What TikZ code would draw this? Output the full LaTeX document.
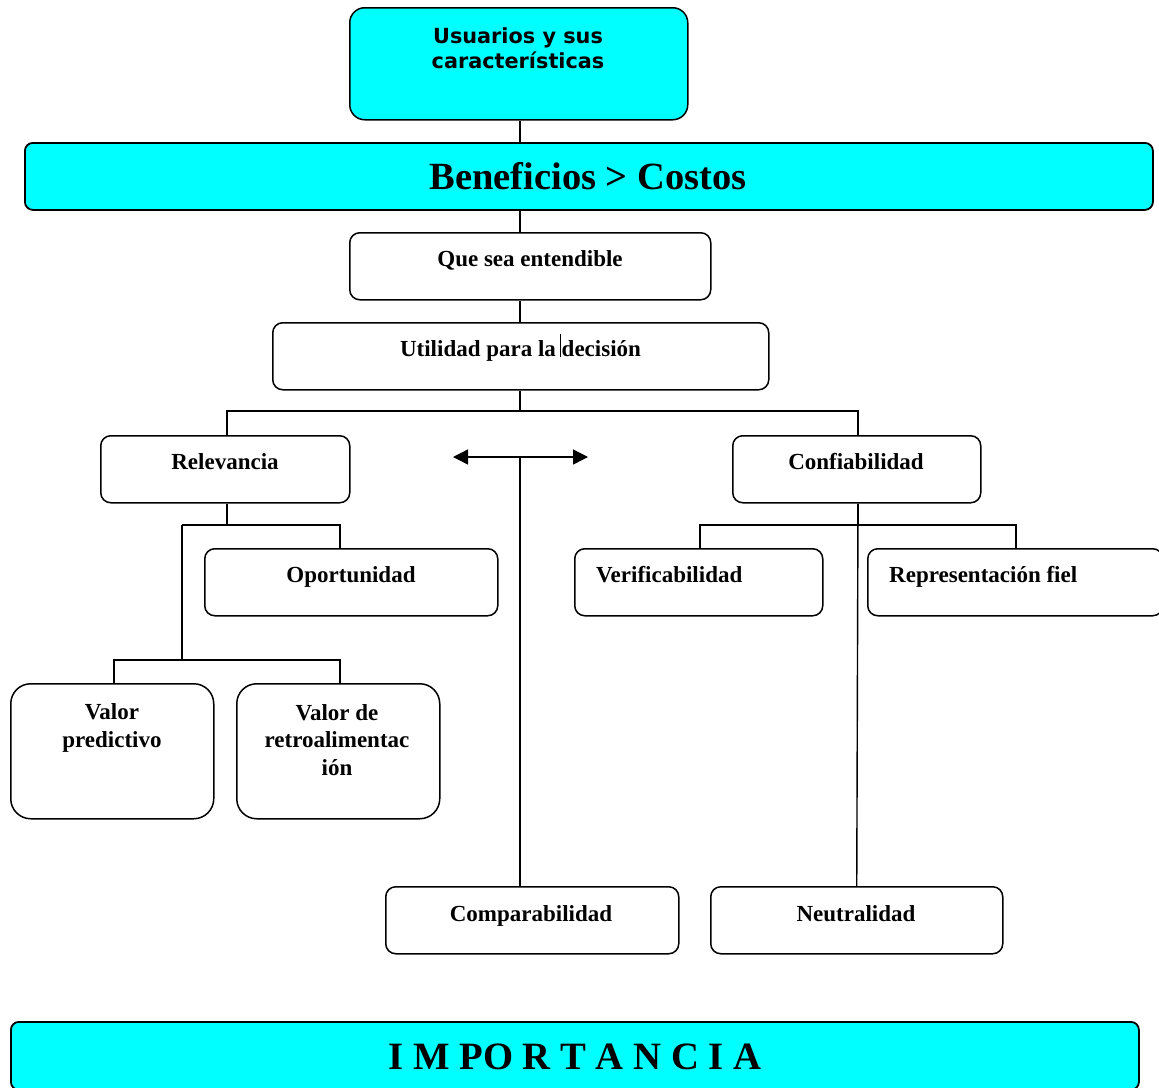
\documentclass[tikz,border=0pt]{standalone}
\usepackage{fontspec}
\setmainfont{Liberation Serif}
\newfontfamily\sansbold{DejaVu Sans}
\usetikzlibrary{arrows.meta,calc}
\definecolor{aqua}{HTML}{00FFFF}
\tikzset{
  bx/.style={draw, line width=1.5pt, rounded corners=10pt, inner sep=0pt, anchor=north west},
  wh/.style 2 args={minimum width=#1pt, minimum height=#2pt},
  lbl/.style={inner sep=0pt, anchor=base, font=\fontsize{23}{27.5}\selectfont\bfseries, align=center},
  lbll/.style={inner sep=0pt, anchor=base west, font=\fontsize{23}{27.5}\selectfont\bfseries},
  con/.style={line width=1.4pt},
  bigtip/.tip={Triangle[length=15pt,width=15pt]},
}
\begin{document}
\begin{tikzpicture}[x=1pt,y=-1pt]
\useasboundingbox (0,0) rectangle (1159,1087);
% boxes
\node[bx, wh={338}{112}, fill=aqua, rounded corners=15pt] (b1) at (349,7) {};
\node[bx, wh={1128}{67}, fill=aqua, rounded corners=8pt, line width=1.8pt] (b2) at (24,142) {};
\node[bx, wh={361}{67}] (b3) at (349,232) {};
\node[bx, wh={496}{67}] (b4) at (272,322) {};
\node[bx, wh={249}{67}] (rel) at (100,435) {};
\node[bx, wh={248}{67}] (conf) at (732,435) {};
\node[bx, wh={293}{67}] (opo) at (204,548) {};
\node[bx, wh={248}{67}] (ver) at (574,548) {};
\node[bx, wh={295}{67}] (rep) at (867,548) {};
\node[bx, wh={203}{135}, rounded corners=20pt] (vp) at (10,683) {};
\node[bx, wh={203}{135}, rounded corners=20pt] (vr) at (236,683) {};
\node[bx, wh={293}{67}] (comp) at (385,886) {};
\node[bx, wh={292}{67}] (neu) at (710,886) {};
\node[bx, wh={1128}{68}, fill=aqua, rounded corners=8pt, line width=1.8pt] (imp) at (10,1021) {};
% texts (multi-line nodes are anchored at the baseline of their last line)
\node[inner sep=0pt, anchor=base, align=center, font=\sansbold\fontsize{20.8}{25}\selectfont\bfseries] (t1) at (518,68) {Usuarios y sus\\características};
\node[inner sep=0pt, anchor=base, font=\fontsize{38.5}{40}\selectfont\bfseries] (t2) at (588,189) {Beneficios > Costos};
\node[lbl] (t3) at (530,266) {Que sea entendible};
\node[lbl] (t4) at (520.5,356) {Utilidad para la decisión};
\node[lbl] (t5) at (225,469) {Relevancia};
\node[lbl] (t6) at (856,469) {Confiabilidad};
\node[lbl] (t7) at (351,582) {Oportunidad};
\node[lbll] (t8) at (596,582) {Verificabilidad};
\node[lbll] (t9) at (889,582) {Representación fiel};
\node[lbl] (t10) at (112,747) {Valor\\predictivo};
\node[lbl] (t11) at (337,775) {Valor de\\retroalimentac\\ión};
\node[lbl] (t12) at (531,921) {Comparabilidad};
\node[lbl] (t13) at (856,921) {Neutralidad};
\node[inner sep=0pt, anchor=base, font=\fontsize{38.7}{40}\selectfont\bfseries] (t14) at (575,1069) {I M PO R T A N C I A};
% junction coordinates
\coordinate (sp) at (520,0);
\coordinate (j1) at (520,411);
\coordinate (jL) at (227,411);
\coordinate (jR) at (858,411);
\coordinate (rA) at (182,525);
\coordinate (rB) at (340,525);
\coordinate (vM) at (182,660);
\coordinate (vA) at (114,660);
\coordinate (vB) at (340,660);
\coordinate (cA) at (700,525);
\coordinate (cB) at (1016,525);
\coordinate (aL) at (453,457);
\coordinate (aR) at (588,457);
\coordinate (aM) at (520,457);
\coordinate (barT) at (560,334);
\coordinate (barB) at (560,357);
% connectors
\draw[con] (b1.south -| sp) -- (b2.north -| sp);
\draw[con] (b2.south -| sp) -- (b3.north -| sp);
\draw[con] (b3.south -| sp) -- (b4.north -| sp);
\draw[con] (b4.south -| sp) -- (j1);
\draw[con] (jL |- rel.north) -- (jL) -- (jR) -- (jR |- conf.north);
\draw[line width=0.9pt] (barT) -- (barB);
\draw[con] (jL |- rel.south) -- (jL |- rA);
\draw[con] (rA) -- (rB) -- (rB |- opo.north);
\draw[con] (rA) -- (vM);
\draw[con] (vA |- vp.north) -- (vA) -- (vB) -- (vB |- vr.north);
\draw[con] (jR |- conf.south) -- (jR |- cA);
\draw[con] (cA |- ver.north) -- (cA) -- (cB) -- (cB |- rep.north);
\draw[con] (jR |- conf.south) -- (neu.north);
\draw[con, {bigtip}-{bigtip}] (aL) -- (aR);
\draw[con] (aM) -- (aM |- comp.north);
\end{tikzpicture}
\end{document}
